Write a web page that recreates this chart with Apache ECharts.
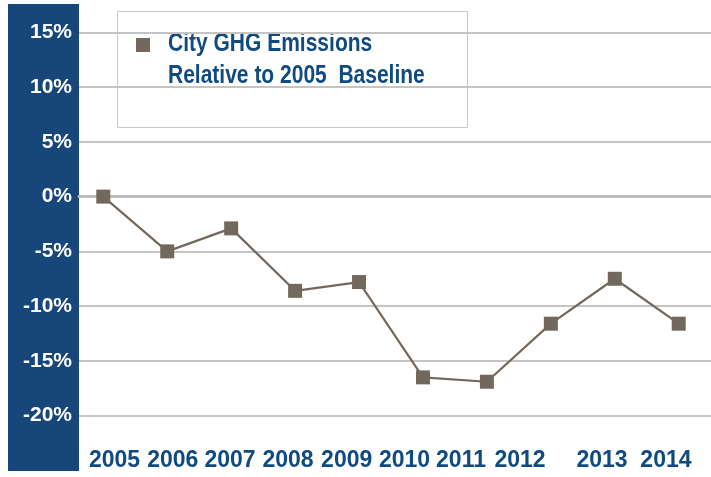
<!DOCTYPE html>
<html>
<head>
<meta charset="utf-8">
<script src="https://cdn.jsdelivr.net/npm/echarts@6/dist/echarts.min.js"></script>
<style>
  html, body { margin: 0; padding: 0; background: #ffffff; }
  #chart { width: 711px; height: 477px; }
</style>
</head>
<body>
<div id="chart"></div>
<script>
// Emissions change (percent) relative to the 2005 baseline, one value per year
const years = ['2005', '2006', '2007', '2008', '2009', '2010', '2011', '2012', '2013', '2014'];
const emissionsPct = [0, -5.0, -2.9, -8.6, -7.8, -16.5, -16.9, -11.6, -7.5, -11.6];
const yTickValues = [-20, -15, -10, -5, 0, 5, 10, 15];
const seriesName = 'City GHG Emissions\nRelative to 2005  Baseline';

// where each year label sits along the x axis (axis units, point index = 0..9)
const yearLabelSlots = [0.175, 1.086, 1.982, 2.889, 3.807, 4.711, 5.595, 6.518, 7.80, 8.80];

const BLUE = '#17467b';
const TEXT_BLUE = '#0f4a80';
const MARK = '#73685e';
const GRID = '#c4c4c4';
const FONT = '"Liberation Sans", Arial, sans-serif';

const X_MIN = -0.38, X_MAX = 9.505;

const chart = echarts.init(document.getElementById('chart'), null, { renderer: 'canvas' });

chart.setOption({
  animation: false,
  backgroundColor: '#ffffff',
  grid: { left: 79, right: 0, top: 32.3, bottom: 61.3, containLabel: false },
  xAxis: [
    {
      // data axis: its line marks the 0% level
      type: 'value', min: X_MIN, max: X_MAX,
      axisLine: { show: true, onZero: true, lineStyle: { color: '#bcbcbc', width: 3 } },
      axisTick: { show: false }, axisLabel: { show: false }, splitLine: { show: false }
    },
    {
      // year labels along the bottom
      type: 'value', min: X_MIN, max: X_MAX, position: 'bottom',
      axisLine: { show: false, onZero: false }, axisTick: { show: false }, splitLine: { show: false },
      axisLabel: {
        show: true,
        customValues: yearLabelSlots,
        formatter: function (v) {
          const i = yearLabelSlots.indexOf(v);
          return i >= 0 ? years[i] : '';
        },
        color: TEXT_BLUE, fontFamily: FONT, fontWeight: 'bold', fontSize: 23, margin: 33
      }
    }
  ],
  yAxis: {
    type: 'value', min: yTickValues[0], max: yTickValues[yTickValues.length - 1], interval: 5,
    axisLine: { show: false }, axisTick: { show: false },
    axisLabel: {
      color: '#ffffff', fontFamily: FONT, fontWeight: 'bold', fontSize: 21, margin: 7,
      formatter: function (v) { return v + '%'; }
    },
    splitLine: { show: true, lineStyle: { color: GRID, width: 2 } }
  },
  graphic: [
    // dark blue band behind the y axis labels
    { type: 'rect', z: -10, shape: { x: 8, y: 4, width: 71, height: 467 }, style: { fill: BLUE } },
    // legend panel
    {
      type: 'group', z: 50, children: [
        { type: 'rect', shape: { x: 117.5, y: 11.5, width: 350, height: 116 },
          style: { fill: '#ffffff', stroke: '#c8c8c8', lineWidth: 1 } },
        { type: 'rect', shape: { x: 136, y: 38, width: 14, height: 14 }, style: { fill: MARK } },
        // condensed bold caption
        { type: 'text', x: 168, y: 28, scaleX: 0.84,
          style: { text: seriesName, fill: TEXT_BLUE, font: 'bold 25px ' + FONT,
                   lineHeight: 32, verticalAlign: 'top', align: 'left' } }
      ]
    }
  ],
  series: [{
    name: seriesName,
    type: 'line',
    xAxisIndex: 0,
    data: emissionsPct.map(function (v, i) { return [i, v]; }),
    symbol: 'rect', symbolSize: 14,
    itemStyle: { color: MARK },
    lineStyle: { color: MARK, width: 2.2 },
    z: 5
  }]
});
</script>
</body>
</html>
